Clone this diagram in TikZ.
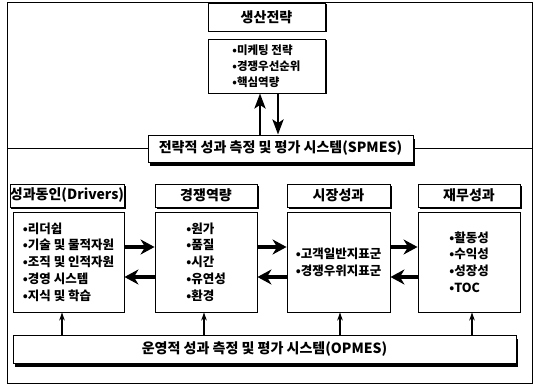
\documentclass[tikz,border=0pt]{standalone}
\usepackage{fontspec}
\setmainfont{Noto Sans CJK KR}
\usetikzlibrary{arrows.meta,shadows}
\begin{document}
\begin{tikzpicture}[x=1pt,y=-1pt,
  box/.style={draw,line width=0.9pt,fill=white,inner sep=0pt},
  shbox/.style={box,drop shadow={shadow xshift=1.5pt,shadow yshift=-1.5pt,fill=black,opacity=1}},
  bigsh/.style={box,drop shadow={shadow xshift=2pt,shadow yshift=-3.5pt,fill=black,opacity=1}},
  head/.style={shbox,font=\fontsize{14}{16}\selectfont\bfseries},
  body/.style={box,align=left,font=\fontsize{12.5}{16.8}\selectfont\bfseries},
  bigarrow/.style={line width=3.8pt,-{Stealth[length=14pt,width=15pt,inset=4.5pt]}},
  vertarrow/.style={line width=2.8pt,-{Stealth[length=15pt,width=11pt,inset=3.5pt]}},
  smallarrow/.style={line width=1.1pt,-{Stealth[length=8pt,width=5.5pt]}}
]
\useasboundingbox (0,0) rectangle (535,385);
\draw[line width=0.9pt] (7,2) rectangle (532,383);

\node[head,minimum width=117pt,minimum height=28pt] (prod) at (266.5,17) {생산전략};
\node[shbox,align=left,minimum width=117pt,minimum height=54pt,font=\fontsize{11.5}{16}\selectfont\bfseries] (strat) at (266.5,66) {•미케팅 전략\\•경쟁우선순위\\•핵심역량};

\node[bigsh,minimum width=265pt,minimum height=27pt,font=\fontsize{14}{16}\selectfont\bfseries] (spmes) at (280.5,148.5) {전략적 성과 측정 및 평가 시스템(SPMES)};
\coordinate (fl) at (7,148.5);
\coordinate (fr) at (532,148.5);
\draw[line width=0.9pt] (fl) -- (spmes.west);
\draw[line width=0.9pt] (spmes.east) -- (fr);

\draw[vertarrow] ([xshift=-6.5pt]spmes.north -| strat.south) -- ([xshift=-6.5pt]strat.south);
\draw[vertarrow] ([xshift=11.5pt]strat.south) -- ([xshift=11.5pt]strat.south |- spmes.north);

\node[head,minimum width=114pt,minimum height=23pt] (h1) at (67,195.5) {성과동인(Drivers)};
\node[head,minimum width=102pt,minimum height=23pt] (h2) at (206,195.5) {경쟁역량};
\node[head,minimum width=103pt,minimum height=23pt] (h3) at (338.5,195.5) {시장성과};
\node[head,minimum width=102pt,minimum height=23pt] (h4) at (469,195.5) {재무성과};

\node[body,minimum width=111pt,minimum height=100pt] (c1) at (68.5,262) {•리더쉽\\•기술 및 물적자원\\•조직 및 인적자원\\•경영 시스템\\•지식 및 학습};
\node[body,minimum width=102pt,minimum height=100pt] (c2) at (206,262) {•원가\\•품질\\•시간\\•유연성\\•환경};
\node[body,minimum width=103pt,minimum height=100pt] (c3) at (338.5,262) {•고객일반지표군\\•경쟁우위지표군};
\node[body,minimum width=102pt,minimum height=100pt] (c4) at (469,262) {•활동성\\•수익성\\•성장성\\•TOC};

\draw[bigarrow] ([yshift=15pt]c1.east) -- ([yshift=15pt]c1.east -| c2.west);
\draw[bigarrow] ([yshift=-15pt]c2.west) -- ([yshift=-15pt]c2.west -| c1.east);
\draw[bigarrow] ([yshift=15pt]c2.east) -- ([yshift=15pt]c2.east -| c3.west);
\draw[bigarrow] ([yshift=-15pt]c3.west) -- ([yshift=-15pt]c3.west -| c2.east);
\draw[bigarrow] ([yshift=15pt]c3.east) -- ([yshift=15pt]c3.east -| c4.west);
\draw[bigarrow] ([yshift=-15pt]c4.west) -- ([yshift=-15pt]c4.west -| c3.east);

\node[bigsh,minimum width=503pt,minimum height=28pt,font=\fontsize{14}{16}\selectfont\bfseries] (opmes) at (264.5,349) {운영적 성과 측정 및 평가 시스템(OPMES)};

\draw[smallarrow] ([xshift=-6.5pt]c1.south |- opmes.north) -- ([xshift=-6.5pt]c1.south);
\draw[smallarrow] ([xshift=-2pt]c2.south |- opmes.north) -- ([xshift=-2pt]c2.south);
\draw[smallarrow] ([xshift=1.5pt]c3.south |- opmes.north) -- ([xshift=1.5pt]c3.south);
\draw[smallarrow] ([xshift=3pt]c4.south |- opmes.north) -- ([xshift=3pt]c4.south);
\end{tikzpicture}
\end{document}
